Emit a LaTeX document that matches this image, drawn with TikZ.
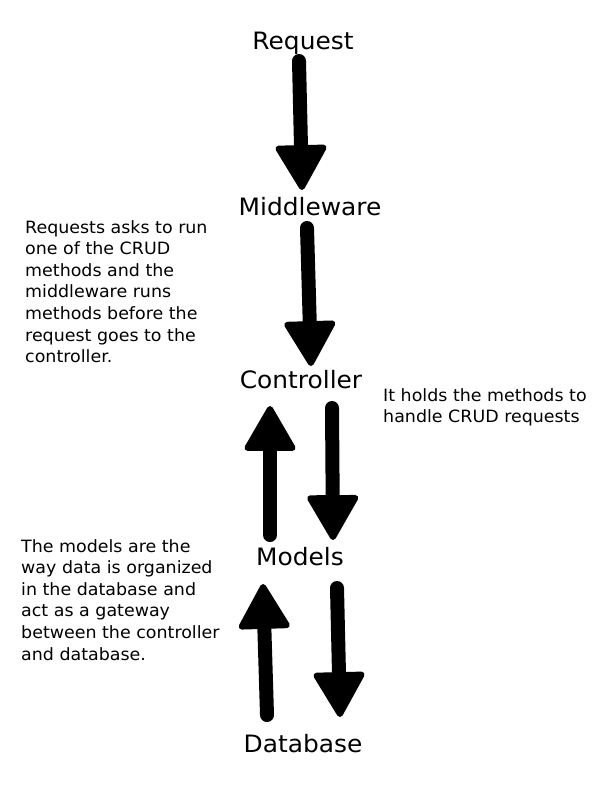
\documentclass[tikz,border=0pt]{standalone}
\usepackage{fontspec}
\setmainfont{DejaVu Sans}
\newfontfamily\layerfont[FakeStretch=1.04]{DejaVu Sans}
\newfontfamily\notefont[FakeStretch=1.03]{DejaVu Sans}
\usetikzlibrary{arrows.meta}

\begin{document}
\begin{tikzpicture}[x=1bp,y=-1bp,
		%Option for big arrows%
		bigarrow/.style={line width=14bp,line cap=round,%
			-{Triangle[length=48bp,width=54bp,line width=6bp,round]}},%
		layer/.style={font=\layerfont\fontsize{24}{28}\selectfont,%
			anchor=base,inner sep=0pt},%
		note/.style={font=\notefont\fontsize{17}{21.7}\selectfont,%
			anchor=north west,align=left,inner sep=0pt}%
		]
		%% page
		\fill[white] (0,0) rectangle (612,792);
		\useasboundingbox (0,0) rectangle (612,792);
		%
		%% the layers
		\node[layer] (req)  at (303,50)  {Request};
		\node[layer] (mid)  at (310,215) {Middleware};
		\node[layer] (ctrl) at (301,388) {Controller};
		\node[layer] (mod)  at (300,565) {Models};
		\node[layer] (db)   at (303,752) {Database};
		%
		%% the notes
		\node[note] (noteReq) at (25,220) {Requests asks to run\\one of the CRUD\\methods and the\\middleware runs\\methods before the\\request goes to the\\controller.};
		\node[note] (noteCtrl) at (383,388) {It holds the methods to\\handle CRUD requests};
		\node[note] (noteMod) at (21,539) {The models are the\\way data is organized\\in the database and\\act as a gateway\\between the controller\\and database.};
		%
		%% the arrows
		\draw[bigarrow] ([shift={(-4,11)}]req.base) -- ([shift={(-8,-25)}]mid.base);
		\draw[bigarrow] ([shift={(-3,13)}]mid.base) -- ([shift={(10,-22)}]ctrl.base);
		%
		\draw[bigarrow] ([shift={(-30,-30)}]mod.base) -- ([shift={(-31,18)}]ctrl.base);
		\draw[bigarrow] ([shift={(31,20)}]ctrl.base) -- ([shift={(33,-25)}]mod.base);
		%
		\draw[bigarrow] ([shift={(-36,-37)}]db.base) -- ([shift={(-37,19)}]mod.base);
		\draw[bigarrow] ([shift={(37,23)}]mod.base) -- ([shift={(37,-35)}]db.base);
	\end{tikzpicture}
\end{document}
